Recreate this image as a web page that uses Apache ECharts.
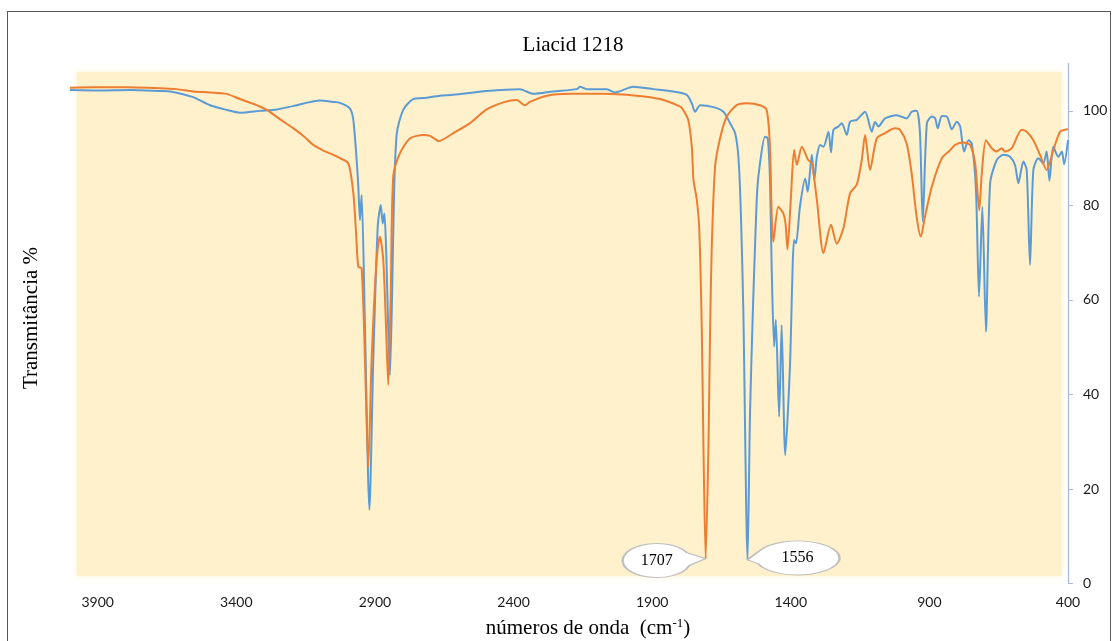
<!DOCTYPE html>
<html>
<head>
<meta charset="utf-8">
<script src="https://cdn.jsdelivr.net/npm/echarts@6.0.0/dist/echarts.min.js"></script>
<style>
  html, body { margin: 0; padding: 0; background: #fff; overflow: hidden; }
  #chart { position: absolute; left: 0; top: 0; width: 1120px; height: 641px; }
  #frame { position: absolute; left: 7px; top: 11px; width: 1104px; height: 660px; border: 1px solid #595959; box-sizing: border-box; }
</style>
</head>
<body>
<div id="frame"></div>
<div id="chart"></div>
<script>
// eixo x: números de onda (cm-1), eixo y: transmitância %
const xTicks = [3900, 3400, 2900, 2400, 1900, 1400, 900, 400]
const yTicks = [0, 20, 40, 60, 80, 100]

// espectro azul
const blueWn = [4000, 3892, 3784, 3675, 3639, 3556, 3495, 3434, 3387, 3315, 3253, 3196, 3098, 3051, 3026, 2990,
  2978, 2966, 2960, 2954, 2948, 2936, 2920, 2906, 2890, 2879, 2872, 2866, 2860, 2846, 2838, 2831, 2821, 2798,
  2762, 2725, 2665, 2617, 2497, 2377, 2329, 2257, 2172, 2160, 2136, 2064, 2034, 1968, 1896, 1824, 1775, 1757,
  1745, 1727, 1679, 1643, 1619, 1601, 1589, 1580, 1571, 1556, 1547, 1537, 1529, 1521, 1511, 1493, 1483, 1475,
  1469, 1460, 1454, 1442, 1433, 1420, 1403, 1388, 1381, 1367, 1348, 1339, 1324, 1315, 1306, 1294, 1282, 1264,
  1255, 1246, 1228, 1216, 1198, 1186, 1162, 1132, 1108, 1096, 1084, 1060, 1018, 982, 964, 946, 934, 924, 909,
  891, 879, 870, 855, 837, 819, 801, 789, 775, 759, 747, 732, 721, 709, 696, 681, 657, 633, 609, 591, 579, 561,
  549, 537, 525, 507, 489, 477, 467, 453, 435, 422, 414, 400]
const blueT = [104.4, 104.3, 104.4, 104.2, 104.1, 102.9, 101.2, 100.2, 99.6, 100.0, 100.3, 101.0, 102.2, 101.9, 101.7, 100.5,
  98.1, 89.6, 84.0, 76.9, 82.2, 54.3, 15.6, 47.3, 75.5, 80.1, 76.2, 78.3, 71.3, 44.1, 61.4, 82.6, 95.3, 100.2,
  102.5, 102.7, 103.2, 103.4, 104.2, 104.6, 103.6, 104.1, 104.6, 105.1, 104.6, 104.6, 103.9, 105.1, 104.6, 104.1, 103.4, 101.6,
  99.8, 101.2, 100.8, 99.8, 97.4, 95.3, 90.3, 78.3, 57.2, 5.0, 36.0, 57.2, 71.3, 83.3, 88.9, 94.5, 94.2, 85.4,
  67.0, 50.1, 55.8, 35.3, 54.7, 27.2, 45.9, 72.7, 72.0, 79.7, 85.7, 82.9, 90.7, 85.4, 90.3, 92.8, 92.4, 95.6,
  91.2, 96.0, 96.7, 97.4, 94.9, 97.7, 98.1, 99.8, 95.6, 97.7, 96.7, 98.4, 99.1, 98.4, 99.8, 100.0, 95.3, 76.6, 97.4,
  98.8, 98.4, 96.3, 98.9, 98.8, 96.1, 97.7, 96.7, 91.4, 93.8, 93.1, 83.3, 60.7, 79.7, 53.3, 84.7, 89.6, 90.7, 90.3, 88.5, 84.7, 89.3,
  87.5, 67.4, 87.5, 90.0, 88.9, 91.4, 85.2, 92.4, 90.3, 91.4, 88.7, 93.8]

// espectro laranja
const orangeWn = [4000, 3916, 3795, 3675, 3615, 3555, 3495, 3435, 3387, 3339, 3290, 3242, 3194, 3158, 3122, 3086, 3050, 3026,
  2996, 2978, 2968, 2960, 2948, 2936, 2924, 2912, 2894, 2882, 2870, 2860, 2852, 2843, 2834, 2810, 2773, 2725, 2701,
  2677, 2671, 2617, 2557, 2497, 2437, 2389, 2359, 2341, 2280, 2196, 2076, 1956, 1872, 1799, 1788, 1770, 1757, 1751,
  1739, 1730, 1721, 1715, 1707, 1697, 1691, 1685, 1673, 1655, 1631, 1595, 1559, 1511, 1487, 1475, 1469, 1463, 1445,
  1427, 1419, 1412, 1400, 1388, 1378, 1360, 1337, 1324, 1306, 1282, 1255, 1234, 1210, 1186, 1162, 1144, 1132, 1114,
  1090, 1060, 1024, 1006, 982, 964, 946, 931, 916, 891, 855, 825, 807, 777, 753, 735, 727, 720, 711, 696, 675, 657,
  639, 627, 603, 567, 549, 525, 501, 477, 453, 429, 411, 400]
const orangeT = [104.9, 105.0, 105.0, 104.8, 104.6, 104.1, 103.9, 103.6, 102.5, 101.5, 100.2, 98.2, 96.3, 94.7, 92.8, 91.6, 90.7, 90.0,
  88.9, 82.6, 74.1, 67.0, 66.7, 47.3, 24.7, 47.3, 68.5, 73.4, 68.5, 54.3, 42.0, 61.4, 86.1, 91.0, 94.2, 94.9, 94.7,
  93.8, 93.6, 95.3, 97.4, 100.3, 101.8, 102.3, 101.2, 101.9, 103.2, 103.6, 103.6, 103.2, 102.5, 100.9, 100.2, 98.1, 92.4, 85.4,
  81.2, 74.8, 53.7, 28.9, 5.3, 28.9, 53.7, 71.3, 88.2, 94.2, 98.8, 101.2, 101.6, 101.2, 100.2, 92.4, 78.3, 72.3, 79.7,
  78.3, 76.2, 70.7, 81.2, 91.7, 88.6, 92.4, 89.6, 88.9, 81.2, 69.9, 75.9, 71.9, 75.2, 82.6, 84.4, 89.6, 94.9, 87.5,
  94.2, 95.3, 96.3, 96.0, 93.1, 86.8, 77.6, 73.4, 77.6, 84.0, 90.0, 91.7, 92.8, 93.3, 92.8, 88.9, 83.3, 79.0, 86.8, 93.8, 92.1, 91.4,
  92.1, 91.4, 92.1, 96.0, 95.6, 93.8, 90.7, 87.5, 91.7, 95.6, 96.0, 96.1]

const blueData = blueWn.map((w, i) => [w, blueT[i]])
const orangeData = orangeWn.map((w, i) => [w, orangeT[i]])

const serif = '"Liberation Serif", "Times New Roman", serif'
const sans = 'Lato, "Open Sans", sans-serif'

const chart = echarts.init(document.getElementById('chart'))

chart.setOption({
  animation: false,
  backgroundColor: 'transparent',
  title: {
    text: 'Liacid 1218',
    left: 568, top: 30, textAlign: 'center',
    textStyle: { fontFamily: serif, fontSize: 21, fontWeight: 'normal', color: '#000' }
  },
  graphic: [
    {
      type: 'rect', z: -10, silent: true,
      shape: { x: 77, y: 72, width: 984, height: 504 },
      style: { fill: '#FFF1CC', shadowBlur: 7, shadowColor: '#FFF1CC' }
    },
    {
      type: 'text', silent: true,
      x: 31, y: 318, rotation: Math.PI / 2,
      style: {
        text: 'Transmitância %', align: 'center', verticalAlign: 'middle',
        font: '21px ' + serif, fill: '#000'
      }
    }
  ],
  grid: { left: 70, right: 52, top: 63.6, bottom: 57.4, outerBoundsMode: 'none', containLabel: false },
  xAxis: {
    type: 'value', min: 400, max: 4000, inverse: true,
    axisLine: { show: false }, axisTick: { show: false }, splitLine: { show: false },
    axisLabel: {
      customValues: xTicks, margin: 12, fontFamily: sans, fontSize: 14, color: '#1a1a1a',
      formatter: v => String(v)
    },
    name: '{a|números de onda  (cm}{s|-1}{a|)}',
    nameLocation: 'middle', nameGap: 33,
    nameTextStyle: {
      padding: [0, 0, 0, 38],
      rich: {
        a: { fontFamily: serif, fontSize: 21, color: '#000' },
        s: { fontFamily: serif, fontSize: 13, color: '#000', verticalAlign: 'top', padding: [0, 0, 10, 0] }
      }
    }
  },
  yAxis: {
    type: 'value', position: 'right', min: 0, max: 110,
    axisLine: { show: true, lineStyle: { color: '#A9BCD8', width: 1.3 } },
    axisTick: { show: true, customValues: yTicks, length: 5, lineStyle: { color: '#A9BCD8' } },
    axisLabel: { customValues: yTicks, margin: 15, fontFamily: sans, fontSize: 14, color: '#1a1a1a' },
    splitLine: { show: false }
  },
  series: [
    {
      name: 'azul', type: 'line', data: blueData, showSymbol: false, smooth: 0.25,
      lineStyle: { color: '#5B9BD5', width: 2 },
      markPoint: {
        symbol: 'path://M-38,-7L-50,2L-39.5,6A42,17,0,1,0,-38,-7Z',
        symbolSize: [92, 34], symbolOffset: [46, -2],
        itemStyle: { color: '#fff', borderColor: '#BFBFBF', borderWidth: 1.5 },
        label: { show: true, formatter: '{b}', offset: [4, 0], fontFamily: serif, fontSize: 16, color: '#000' },
        data: [{ name: '1556', coord: [1556, blueT[blueWn.indexOf(1556)]] }]
      }
    },
    {
      name: 'laranja', type: 'line', data: orangeData, showSymbol: false, smooth: 0.25,
      lineStyle: { color: '#ED7D31', width: 2 },
      markPoint: {
        symbol: 'path://M30,-8L49,-2L32.5,5A34,17,0,1,1,30,-8Z',
        symbolSize: [83, 34], symbolOffset: [-41.5, 2],
        itemStyle: { color: '#fff', borderColor: '#BFBFBF', borderWidth: 1.5 },
        label: { show: true, formatter: '{b}', offset: [-7.5, 0], fontFamily: serif, fontSize: 16, color: '#000' },
        data: [{ name: '1707', coord: [1707, orangeT[orangeWn.indexOf(1707)]] }]
      }
    }
  ]
})
</script>
</body>
</html>
